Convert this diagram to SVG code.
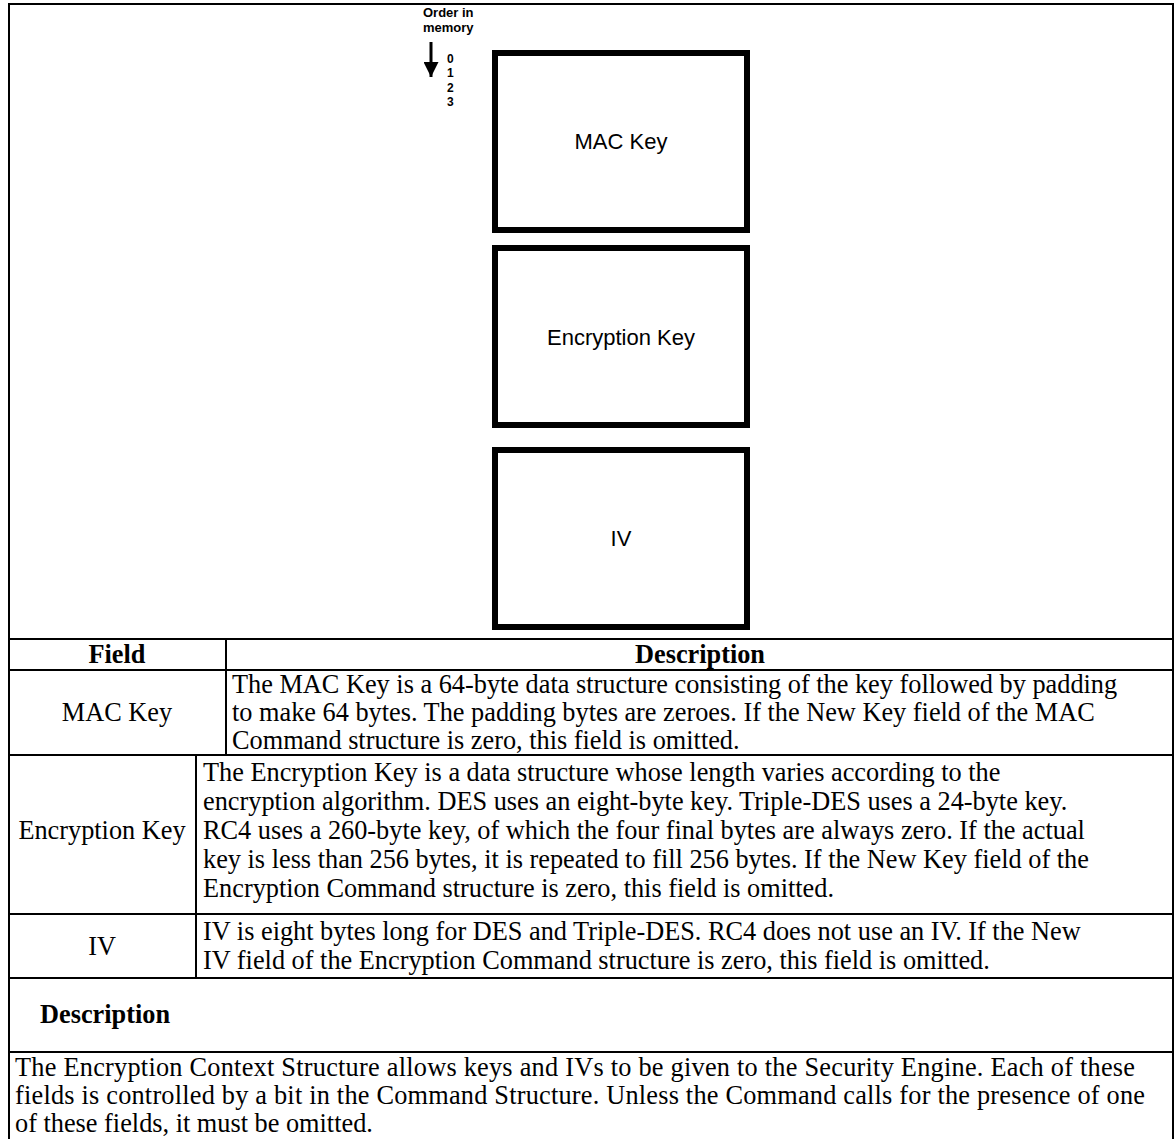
<svg xmlns="http://www.w3.org/2000/svg" width="1176" height="1139" viewBox="0 0 1176 1139">
<defs>
<style>
.frame{fill:none;stroke:#000;stroke-width:2}
.box{fill:#fff;stroke:#000;stroke-width:6}
.grid{stroke:#000;stroke-width:2;fill:none}
.lbl{font-family:"Liberation Sans",Arial,sans-serif;font-size:22px;fill:#000;text-anchor:middle}
.small{font-family:"Liberation Sans",Arial,sans-serif;font-size:13px;font-weight:bold;fill:#000}
.num{font-family:"Liberation Sans",Arial,sans-serif;font-size:12px;font-weight:bold;fill:#000}
.t{font-family:"Liberation Serif","Times New Roman",serif;font-size:26.3px;fill:#000}
.c{text-anchor:middle}
.b{font-weight:bold}
</style>
<marker id="ah" viewBox="0 0 10 10" refX="10" refY="5" markerWidth="5" markerHeight="5" orient="auto" markerUnits="strokeWidth">
<path d="M0,0 L10,5 L0,10 z" fill="#000"/>
</marker>
</defs>
<rect width="1176" height="1139" fill="#fff"/>
<g id="frame">
<path class="frame" d="M9,1139 V4 H1173 V1139"/>
</g>
<g id="order">
<text class="small" x="423" y="17">Order in</text>
<text class="small" x="423" y="32">memory</text>
<text class="num" x="447" y="63">0</text>
<text class="num" x="447" y="77">1</text>
<text class="num" x="447" y="92">2</text>
<text class="num" x="447" y="106">3</text>
</g>
<g id="connectors">
<line x1="431" y1="42" x2="431" y2="77" stroke="#000" stroke-width="3" marker-end="url(#ah)"/>
</g>
<g id="mac-key">
<rect class="box" x="495" y="53" width="252" height="177"/>
<text class="lbl" x="621" y="149">MAC Key</text>
</g>
<g id="encryption-key">
<rect class="box" x="495" y="248" width="252" height="177"/>
<text class="lbl" x="621" y="345">Encryption Key</text>
</g>
<g id="iv">
<rect class="box" x="495" y="450" width="252" height="177"/>
<text class="lbl" x="621" y="546">IV</text>
</g>
<g id="table">
<path class="grid" d="M9,639 H1173 M9,670 H1173 M9,755 H1173 M9,914 H1173 M9,978 H1173 M9,1052 H1173 M226,639 V755 M196,755 V978"/>
<text class="t b c" x="117" y="663">Field</text>
<text class="t b c" x="700" y="663">Description</text>
<text class="t c" x="117" y="721">MAC Key</text>
<text class="t" x="232" y="693">The MAC Key is a 64-byte data structure consisting of the key followed by padding</text>
<text class="t" x="232" y="721">to make 64 bytes. The padding bytes are zeroes. If the New Key field of the MAC</text>
<text class="t" x="232" y="749">Command structure is zero, this field is omitted.</text>
<text class="t c" x="102" y="839">Encryption Key</text>
<text class="t" x="203" y="781">The Encryption Key is a data structure whose length varies according to the</text>
<text class="t" x="203" y="810">encryption algorithm. DES uses an eight-byte key. Triple-DES uses a 24-byte key.</text>
<text class="t" x="203" y="839">RC4 uses a 260-byte key, of which the four final bytes are always zero. If the actual</text>
<text class="t" x="203" y="868">key is less than 256 bytes, it is repeated to fill 256 bytes. If the New Key field of the</text>
<text class="t" x="203" y="897">Encryption Command structure is zero, this field is omitted.</text>
<text class="t c" x="102" y="955">IV</text>
<text class="t" x="203" y="940">IV is eight bytes long for DES and Triple-DES. RC4 does not use an IV. If the New</text>
<text class="t" x="203" y="969">IV field of the Encryption Command structure is zero, this field is omitted.</text>
<text class="t b" x="40" y="1023">Description</text>
<text class="t" x="15" y="1076" textLength="1120">The Encryption Context Structure allows keys and IVs to be given to the Security Engine. Each of these</text>
<text class="t" x="15" y="1104" textLength="1130">fields is controlled by a bit in the Command Structure. Unless the Command calls for the presence of one</text>
<text class="t" x="15" y="1132">of these fields, it must be omitted.</text>
</g>
</svg>
